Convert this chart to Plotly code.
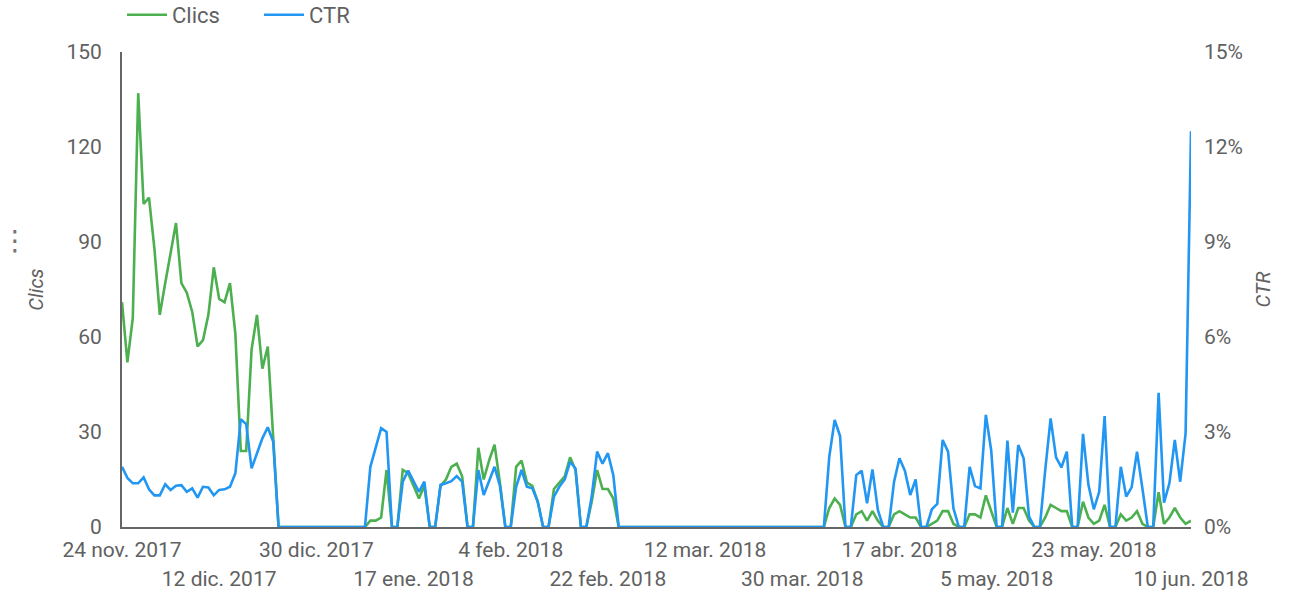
import pandas as pd
import plotly.graph_objects as go

start_date = "2017-11-24"
end_date = "2018-06-10"

# Daily clicks (left axis), 24 nov 2017 .. 10 jun 2018
clics = [
    71, 52, 66, 137, 102, 104, 88, 67, 77, 87, 96, 77, 74, 68, 57, 59, 67, 82, 72, 71,
    77, 61, 24, 24, 56, 67, 50, 57, 27,
    0, 0, 0, 0, 0, 0, 0, 0, 0, 0, 0, 0, 0, 0, 0, 0, 0,
    2, 2, 3, 18, 0, 0, 18, 17, 13, 9, 13, 0, 0, 13, 15, 19, 20, 16, 0, 0,
    25, 15, 21, 26, 14, 0, 0, 19, 21, 14, 13, 8, 0, 0, 12, 14, 16, 22, 18, 0,
    0, 8, 18, 12, 12, 9,
    0, 0, 0, 0, 0, 0, 0, 0, 0, 0, 0, 0, 0, 0, 0, 0, 0, 0, 0, 0,
    0, 0, 0, 0, 0, 0, 0, 0, 0, 0, 0, 0, 0, 0, 0, 0, 0, 0, 0,
    6, 9, 7, 0, 0, 4, 5, 2, 5, 2, 0, 0, 4, 5, 4, 3, 3, 0, 0, 1,
    2, 5, 5, 1, 0, 0, 4, 4, 3, 10, 5, 0, 0, 6, 1, 6, 6, 2, 0, 0,
    3, 7, 6, 5, 5, 0, 0, 8, 3, 1, 2, 7, 0, 0, 4, 2, 3, 5, 1, 0,
    0, 11, 1, 3, 6, 3, 1, 2,
]

# Daily CTR in % (right axis)
ctr = [
    1.9, 1.55, 1.38, 1.38, 1.57, 1.19, 1.0, 1.0, 1.35, 1.17, 1.3, 1.32, 1.11, 1.22, 0.93,
    1.27, 1.25, 1.0, 1.17, 1.19, 1.27, 1.7, 3.4, 3.25, 1.85, 2.33, 2.8, 3.15, 2.7,
    0, 0, 0, 0, 0, 0, 0, 0, 0, 0, 0, 0, 0, 0, 0, 0, 0,
    1.9, 2.5, 3.12, 3.0, 0, 0, 1.43, 1.78, 1.45, 1.11, 1.43, 0, 0, 1.33, 1.38, 1.45,
    1.61, 1.43, 0, 0, 1.8, 1.01, 1.45, 1.9, 1.3, 0, 0, 1.27, 1.8, 1.27, 1.22, 0.8,
    0, 0, 0.96, 1.27, 1.5, 2.06, 1.85, 0, 0, 0.96, 2.38, 2.0, 2.33, 1.64,
    0, 0, 0, 0, 0, 0, 0, 0, 0, 0, 0, 0, 0, 0, 0, 0, 0, 0, 0, 0,
    0, 0, 0, 0, 0, 0, 0, 0, 0, 0, 0, 0, 0, 0, 0, 0, 0, 0, 0,
    2.22, 3.38, 2.87, 0, 0, 1.64, 1.78, 0.75, 1.82, 0.54, 0, 0, 1.43, 2.17, 1.78, 1.01,
    1.5, 0, 0, 0.56, 0.73, 2.75, 2.38, 0.59, 0, 0, 1.9, 1.29, 1.22, 3.54, 2.41, 0, 0,
    2.73, 0.45, 2.59, 2.17, 0.33, 0, 0, 1.8, 3.43, 2.2, 1.88, 2.38, 0, 0, 2.94, 1.33,
    0.56, 1.11, 3.5, 0, 0, 1.9, 0.96, 1.25, 2.38, 1.22, 0, 0, 4.24, 0.77, 1.38, 2.75,
    1.43, 2.96, 12.5,
]

dates = pd.date_range(start_date, end_date, freq="D")
assert len(dates) == len(clics) == len(ctr), (len(dates), len(clics), len(ctr))

tick_dates_row1 = ["2017-11-24", "2017-12-30", "2018-02-04", "2018-03-12", "2018-04-17", "2018-05-23"]
tick_text_row1 = ["24 nov. 2017", "30 dic. 2017", "4 feb. 2018", "12 mar. 2018", "17 abr. 2018", "23 may. 2018"]
tick_dates_row2 = ["2017-12-12", "2018-01-17", "2018-02-22", "2018-03-30", "2018-05-05", "2018-06-10"]
tick_text_row2 = ["12 dic. 2017", "17 ene. 2018", "22 feb. 2018", "30 mar. 2018", "5 may. 2018", "10 jun. 2018"]

left_ticks = [0, 30, 60, 90, 120, 150]
right_ticks = [0, 3, 6, 9, 12, 15]
right_tick_text = ["0%", "3%", "6%", "9%", "12%", "15%"]

GREEN = "#4CAF50"
BLUE = "#2196F3"
TXT = "#616161"
FONT = "Roboto"
TICK_SIZE = 21

fig = go.Figure()
fig.add_trace(go.Scatter(x=dates, y=clics, name="Clics", mode="lines",
                         line=dict(color=GREEN, width=2.6), yaxis="y", xaxis="x"))
fig.add_trace(go.Scatter(x=dates, y=ctr, name="CTR", mode="lines",
                         line=dict(color=BLUE, width=2.6), yaxis="y2", xaxis="x"))
# empty helper trace so the second (lower) row of date labels is drawn
fig.add_trace(go.Scatter(x=[start_date, end_date], y=[None, None], xaxis="x2", yaxis="y",
                         mode="lines", showlegend=False, hoverinfo="skip"))

fig.update_layout(
    width=1289, height=590,
    margin=dict(l=122, r=98, t=52, b=63, autoexpand=False),
    paper_bgcolor="white", plot_bgcolor="white",
    font=dict(family=FONT, color=TXT, size=TICK_SIZE),
    showlegend=True,
    legend=dict(orientation="h", x=0.0, xanchor="left", y=1.078, yanchor="middle",
                font=dict(size=22, color=TXT), itemwidth=40, entrywidth=82,
                bgcolor="rgba(0,0,0,0)", borderwidth=0),
    xaxis=dict(type="date", range=[start_date, end_date], showgrid=False, zeroline=False,
               showline=True, linecolor="#666666", linewidth=2, ticks="", automargin=False,
               tickvals=tick_dates_row1, ticktext=tick_text_row1,
               tickfont=dict(size=TICK_SIZE, color=TXT), ticklabelstandoff=3),
    xaxis2=dict(type="date", range=[start_date, end_date], overlaying="x", anchor="y", side="bottom",
                showgrid=False, zeroline=False, showline=False, ticks="", automargin=False,
                tickvals=tick_dates_row2, ticktext=tick_text_row2,
                tickfont=dict(size=TICK_SIZE, color=TXT), ticklabelstandoff=37),
    yaxis=dict(range=[0, 150], tickvals=left_ticks, showgrid=False, zeroline=False,
               showline=True, linecolor="#666666", linewidth=2, ticks="", automargin=False,
               tickfont=dict(size=TICK_SIZE, color=TXT), ticklabelstandoff=14,
               title=dict(text="<i>Clics</i>", font=dict(size=20, color=TXT), standoff=17)),
    yaxis2=dict(range=[0, 15], tickvals=right_ticks, ticktext=right_tick_text,
                overlaying="y", side="right", automargin=False,
                showgrid=False, zeroline=False, showline=False, ticks="",
                tickfont=dict(size=TICK_SIZE, color=TXT), ticklabelstandoff=12,
                title=dict(text="<i>CTR</i>", font=dict(size=20, color=TXT), standoff=13)),
)

fig.add_annotation(text="⋮", x=-0.1005, y=0.604, xref="paper", yref="paper", showarrow=False,
                   xanchor="center", yanchor="middle", borderpad=0,
                   font=dict(size=28, color="#757575", family="DejaVu Sans"))

fig.write_html(
    "out.html",
    config={"displayModeBar": False},
    post_script="document.body.style.margin='0';document.body.style.overflow='hidden';",
)
